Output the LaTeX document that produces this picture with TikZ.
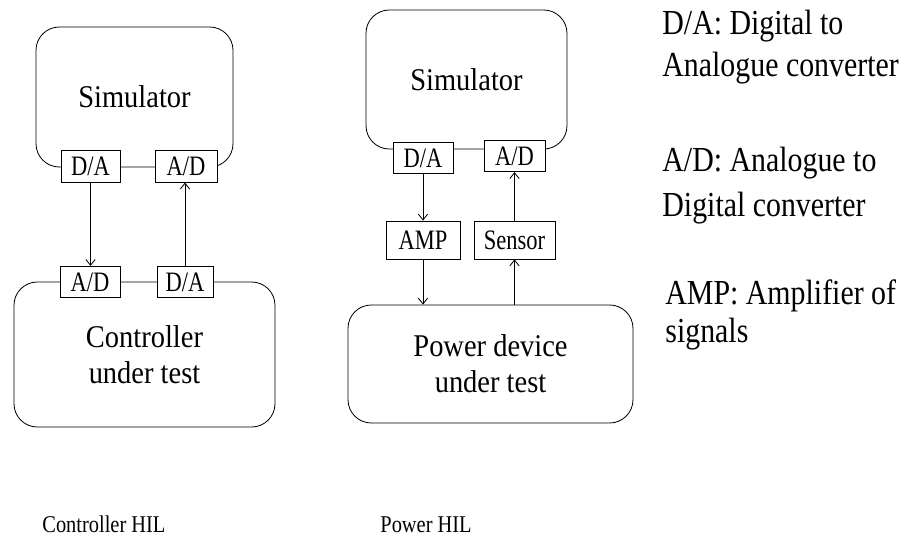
\documentclass[tikz,border=0pt]{standalone}
\usepackage{fontspec}
\setmainfont{Liberation Serif}
\newfontfamily\bigfont[FakeStretch=0.9]{Liberation Serif}
\newfontfamily\convfont[FakeStretch=0.8]{Liberation Serif}
\newfontfamily\notefont[FakeStretch=0.85]{Liberation Serif}
\usetikzlibrary{arrows.meta}
\begin{document}
\begin{tikzpicture}[x=0.03cm,y=-0.03cm,line width=0.7pt,
	big/.style={draw,rounded corners=0.7cm,align=center,font=\bigfont\fontsize{27}{31}\selectfont},
	conv/.style={draw,fill=white,inner sep=0,minimum height=0.94cm,font=\convfont\fontsize{24}{26}\selectfont},
	note/.style={anchor=base west,inner sep=0,font=\notefont\fontsize{30}{32}\selectfont},
	sig/.style={-{Straight Barb[length=5pt,width=8pt]}}]
\useasboundingbox (0,0) rectangle (912,543);
\node[big,minimum width=5.91cm,minimum height=4.2cm] (sim1) at (134.5,97){Simulator};
\node[big,minimum width=7.83cm,minimum height=4.35cm] (ctl) at (144.5,354.5){Controller\\under test};
\node[conv,minimum width=1.77cm] (da1) at (90.5,166.5){D/A};
\node[conv,minimum width=1.86cm] (ad1) at (186,166.5){A/D};
\node[conv,minimum width=1.8cm] (ad2) at (90,282){A/D};
\node[conv,minimum width=1.68cm] (da2) at (185,282){D/A};
\draw[sig] (da1.south)--(da1.south |- ad2.north);
\draw[sig] (da2.north)--(da2.north |- ad1.south);
\node[big,minimum width=6.03cm,minimum height=4.17cm] (sim2) at (466.5,79.5){Simulator};
\node[big,minimum width=8.55cm,minimum height=3.54cm] (pwr) at (490.5,364){Power device\\under test};
\node[conv,minimum width=1.8cm] (da3) at (423,158){D/A};
\node[conv,minimum width=1.83cm] (ad3) at (514.5,156){A/D};
\node[conv,minimum width=2.22cm,minimum height=1.14cm] (amp) at (423,240){AMP};
\node[conv,minimum width=2.43cm,minimum height=1.14cm] (sens) at (514.5,240){Sensor};
\draw[sig] (da3.south)--(da3.south |- amp.north);
\draw[sig] (amp.south)--(amp.south |- pwr.north);
\draw[sig] (sens.south |- pwr.north)--(sens.south);
\draw[sig] (sens.north)--(sens.north |- ad3.south);
\node[note] (k1) at (662,35){D/A: Digital to};
\node[note] (k2) at (662,77){Analogue converter};
\node[note] (k3) at (662,172){A/D: Analogue to};
\node[note] (k4) at (662,217){Digital converter};
\node[note] (k5) at (665,305){AMP: Amplifier of};
\node[note] (k6) at (665,343){signals};
\node[note,font=\notefont\fontsize{20.5}{22}\selectfont] (hil1) at (42,533){Controller HIL};
\node[note,font=\notefont\fontsize{20.5}{22}\selectfont] (hil2) at (380,533){Power HIL};
\end{tikzpicture}
\end{document}
